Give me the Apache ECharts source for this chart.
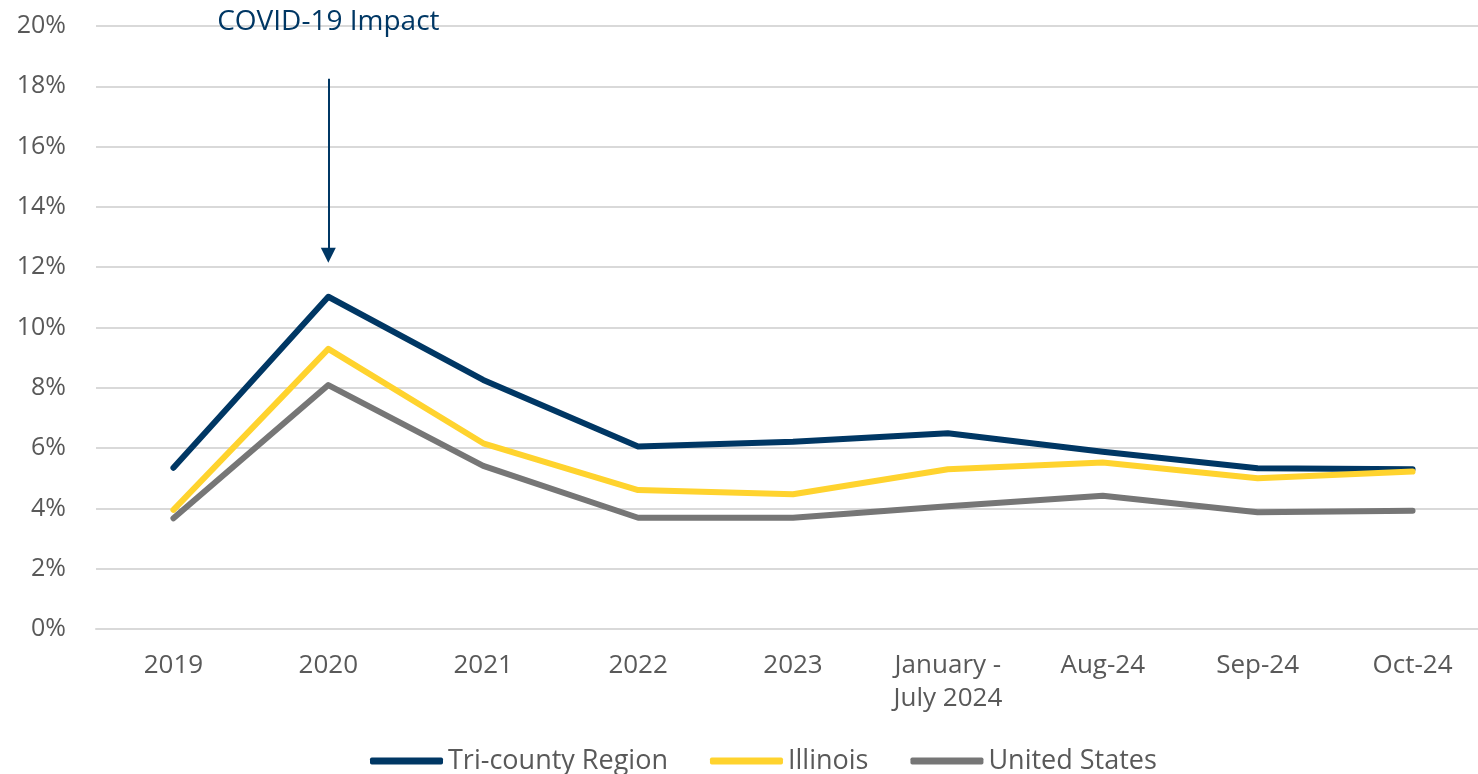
<!DOCTYPE html>
<html>
<head>
    <meta charset="utf-8" />
    <title>Unemployment rate</title>
    <style>
        html, body { margin: 0; padding: 0; background: #fff; }
        #chart { width: 1478px; height: 774px; }
    </style>
</head>
<body>
    <div id="chart"></div>
    <script src="https://cdn.jsdelivr.net/npm/echarts@6/dist/echarts.min.js"></script>
    <script type="text/javascript">
        // categories
        const periods = ['2019', '2020', '2021', '2022', '2023', 'January -\nJuly 2024', 'Aug-24', 'Sep-24', 'Oct-24'];
        // series values (%)
        const triCounty = [5.35, 11.02, 8.26, 6.05, 6.21, 6.49, 5.88, 5.33, 5.30];
        const illinois = [3.95, 9.29, 6.16, 4.61, 4.47, 5.30, 5.52, 5.00, 5.22];
        const unitedStates = [3.67, 8.09, 5.41, 3.69, 3.69, 4.07, 4.42, 3.87, 3.92];
        // annotation: arrow from / to (%)
        const covidPeriod = '2020';
        const arrowFrom = 18.25;
        const arrowTo = 12.4;

        const navy = '#003764';
        const yellow = '#FFD32E';
        const gray = '#767676';
        const textGray = '#595959';
        const font = 'Open Sans';

        const chart = echarts.init(document.getElementById('chart'));

        const lineSeries = function (name, data, color) {
            return {
                name: name,
                type: 'line',
                data: data,
                symbol: 'none',
                color: color,
                lineStyle: { width: 6, color: color, cap: 'round', join: 'round' },
                z: 3
            };
        };

        const tri = lineSeries('Tri-county Region', triCounty, navy);
        // COVID-19 arrow + note
        tri.markLine = {
            silent: true,
            symbol: ['none', 'triangle'],
            symbolSize: [15, 15],
            label: {
                show: true,
                position: 'start',
                distance: 43,
                formatter: 'COVID-19 Impact',
                color: navy,
                fontFamily: font,
                fontSize: 28
            },
            lineStyle: { color: navy, width: 2, type: 'solid' },
            data: [[{ coord: [covidPeriod, arrowFrom] }, { coord: [covidPeriod, arrowTo] }]]
        };

        const option = {
            animation: false,
            backgroundColor: '#fff',
            grid: { left: 96, top: 26, width: 1394, bottom: 145, outerBoundsMode: 'none' },
            legend: {
                top: 740,
                left: 365,
                icon: 'roundRect',
                itemWidth: 73,
                itemHeight: 7,
                itemGap: 42,
                textStyle: { color: textGray, fontFamily: font, fontSize: 27, lineHeight: 32 },
                data: ['Tri-county Region', 'Illinois', 'United States']
            },
            xAxis: {
                type: 'category',
                data: periods,
                boundaryGap: true,
                axisLine: { lineStyle: { color: '#d9d9d9', width: 2 } },
                axisTick: { show: false },
                axisLabel: {
                    color: textGray,
                    fontFamily: font,
                    fontSize: 26,
                    lineHeight: 33,
                    margin: 20,
                    interval: 0
                }
            },
            yAxis: {
                type: 'value',
                min: 0,
                max: 20,
                interval: 2,
                axisLine: { show: false },
                axisTick: { show: false },
                splitLine: { lineStyle: { color: '#d9d9d9', width: 2 } },
                axisLabel: {
                    color: textGray,
                    fontFamily: font,
                    fontSize: 25,
                    margin: 30,
                    formatter: '{value}%'
                }
            },
            series: [
                tri,
                lineSeries('Illinois', illinois, yellow),
                lineSeries('United States', unitedStates, gray)
            ]
        };
        chart.setOption(option);
    </script>
</body>
</html>
